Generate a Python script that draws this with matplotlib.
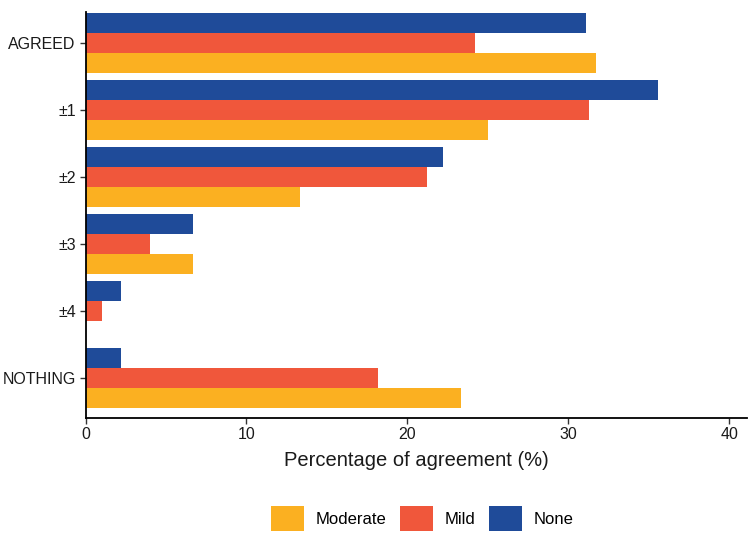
import numpy as np
import matplotlib
matplotlib.use("Agg")
from matplotlib import pyplot as plt
from matplotlib.patches import Patch

plt.rcParams['font.family'] = ['Liberation Sans', 'DejaVu Sans']

categories = ['AGREED', '±1', '±2', '±3', '±4', 'NOTHING']
groups = ['Moderate', 'Mild', 'None']
moderate = [31.7, 25.0, 13.3, 6.7, 0.0, 23.3]
mild = [24.2, 31.3, 21.2, 4.0, 1.0, 18.2]
none = [31.1, 35.6, 22.2, 6.7, 2.2, 2.2]
colors = {'Moderate': '#FBB021', 'Mild': '#F0573B', 'None': '#1F4B99'}

fig = plt.figure(figsize=(7.49, 5.37), dpi=100)
ax = fig.add_axes([0.1142, 0.2222, 0.8831, 0.7555])

y = np.arange(len(categories))
h = 0.3
# None on top, Moderate at the bottom of each group
ax.barh(y - h, none, height=h, color=colors['None'])
ax.barh(y, mild, height=h, color=colors['Mild'])
ax.barh(y + h, moderate, height=h, color=colors['Moderate'])

ax.set_xlim(0, 41.1)
ax.set_ylim(5.59, -0.465)
ax.set_yticks(y)
ax.set_yticklabels(categories)
ax.set_xticks([0, 10, 20, 30, 40])

for s in ['top', 'right']:
    ax.spines[s].set_visible(False)
for s in ['left', 'bottom']:
    ax.spines[s].set_linewidth(1.3)
    ax.spines[s].set_color('black')
ax.tick_params(axis='both', length=4, width=1, color='#333333',
               labelsize=11.5, labelcolor='#1a1a1a', pad=3)

ax.set_xlabel('Percentage of agreement (%)', fontsize=14.5, color='#1a1a1a', labelpad=6)

handles = [Patch(facecolor=colors[g], edgecolor='none') for g in groups]
fig.legend(handles, groups, loc='center', bbox_to_anchor=(0.564, 0.035), ncol=3,
           frameon=False, fontsize=12, handlelength=1.95, handleheight=1.95,
           handletextpad=0.7, columnspacing=0.85)

fig.savefig('out.png', dpi=100)
